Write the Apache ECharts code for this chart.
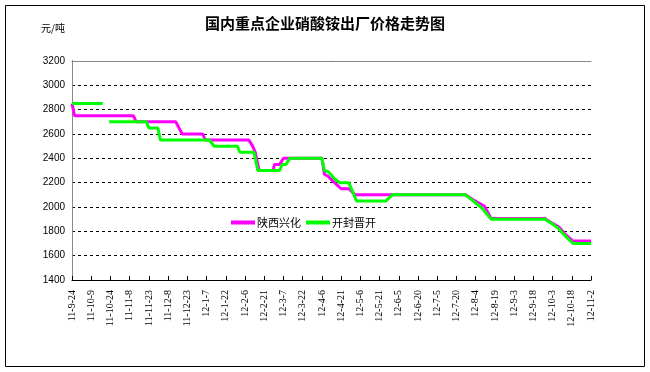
<!DOCTYPE html>
<html>
<head>
<meta charset="utf-8">
<script src="https://cdn.jsdelivr.net/npm/echarts@6/dist/echarts.min.js"></script>
<style>html,body{margin:0;padding:0;background:#fff;}#c{width:650px;height:372px;}</style>
</head>
<body>
<div id="c"></div>
<script>
// Tick labels every 15 days starting 2011-09-24 (day 0)
var tickLabels = ['11-9-24','11-10-9','11-10-24','11-11-8','11-11-23','11-12-8','11-12-23','12-1-7','12-1-22','12-2-6','12-2-21','12-3-7','12-3-22','12-4-6','12-4-21','12-5-6','12-5-21','12-6-5','12-6-20','12-7-5','12-7-20','12-8-4','12-8-19','12-9-3','12-9-18','12-10-3','12-10-18','12-11-2'];
var seriesNames = ['陕西兴化', '开封晋开'];

// 陕西兴化: day offsets and prices
var shaanxiDays   = [0,   2,   48,  50,  81,  86,  102, 104, 138, 141, 143, 146, 157, 158, 162, 165, 195, 197, 200, 208, 210, 216, 221, 307, 313, 322, 327, 369, 375, 380, 385, 391, 405];
var shaanxiValues = [2850,2750,2750,2700,2700,2600,2600,2550,2550,2500,2450,2300,2300,2350,2350,2400,2400,2270,2250,2170,2150,2150,2100,2100,2060,2005,1905,1905,1865,1835,1775,1720,1720];

// 开封晋开: day offsets and prices (null = gap)
var kaifengDays   = [0,   24,  26,   29,  58,  60,  67,  69,  107, 111, 129, 131, 142, 145, 162, 164, 167, 170, 195, 197, 200, 205, 209, 216, 222, 245, 250, 307, 313, 320, 327, 369, 375, 380, 385, 391, 405];
var kaifengValues = [2850,2850,null,2700,2700,2650,2650,2550,2550,2500,2500,2450,2450,2300,2300,2350,2350,2400,2400,2300,2290,2230,2200,2200,2050,2050,2100,2100,2050,1990,1900,1900,1860,1820,1760,1700,1700];

function zip(xs, ys){ var out=[]; for (var i=0;i<xs.length;i++){ out.push([xs[i], ys[i]===null ? '-' : ys[i]]); } return out; }

var chart = echarts.init(document.getElementById('c'), null, {renderer:'canvas'});
var option = {
  backgroundColor: '#fff',
  animation: false,
  title: [
    {text: '国内重点企业硝酸铵出厂价格走势图', left: 'center', top: 11,
     textStyle: {fontFamily: 'Noto Sans CJK SC', fontSize: 15, fontWeight: 'bold', color: '#000'}},
    {text: '元/吨', left: 36, top: 18,
     textStyle: {fontFamily: 'Noto Sans CJK SC', fontSize: 10, fontWeight: 'normal', color: '#000'}}
  ],
  legend: {
    left: 226, top: 212, itemWidth: 24, itemHeight: 4, itemGap: 5,
    icon: 'rect',
    textStyle: {fontFamily: 'Noto Sans CJK SC', fontSize: 11, color: '#000', padding: [0,0,0,-3]},
    data: seriesNames
  },
  grid: {left: 72, right: 59, top: 61, bottom: 92},
  xAxis: [{
    type: 'value', min: 0, max: 405, interval: 15,
    axisLine: {lineStyle: {color: '#000', width: 1}},
    axisTick: {show: true, inside: true, length: 4, lineStyle: {color: '#000'}},
    splitLine: {show: false},
    axisLabel: {rotate: 90, fontFamily: 'Liberation Serif', fontSize: 10, color: '#000', margin: 10,
      formatter: function(v){ return tickLabels[Math.round(v/15)]; }}
  },{
    type: 'value', position: 'top', min: 0, max: 405,
    axisLine: {show: true, lineStyle: {color: '#888'}},
    axisTick: {show: false}, axisLabel: {show: false}, splitLine: {show: false}
  }],
  yAxis: [{
    type: 'value', min: 1400, max: 3200, interval: 200,
    axisLine: {show: true, lineStyle: {color: '#000'}},
    axisTick: {show: false},
    axisLabel: {fontFamily: 'Liberation Sans', fontSize: 10, color: '#000', margin: 7,
      formatter: function(v){ return String(v); }},
    splitLine: {show: true, lineStyle: {color: '#000', type: [3,3], width: 1}}
  },{
    type: 'value', position: 'right', min: 1400, max: 3200,
    axisLine: {show: true, lineStyle: {color: '#888'}},
    axisTick: {show: false}, axisLabel: {show: false}, splitLine: {show: false}
  }],
  graphic: [{
    type: 'rect', shape: {x: 5.5, y: 5.5, width: 639, height: 361},
    style: {fill: 'none', stroke: '#000', lineWidth: 1}, silent: true
  }],
  series: [
    {name: seriesNames[0], type: 'line', data: zip(shaanxiDays, shaanxiValues), showSymbol: false,
     lineStyle: {color: '#FF00FF', width: 3}, itemStyle: {color: '#FF00FF'}, z: 2},
    {name: seriesNames[1], type: 'line', data: zip(kaifengDays, kaifengValues), showSymbol: false, connectNulls: false,
     lineStyle: {color: '#00FF00', width: 3}, itemStyle: {color: '#00FF00'}, z: 3}
  ]
};
chart.setOption(option);
</script>
</body>
</html>
